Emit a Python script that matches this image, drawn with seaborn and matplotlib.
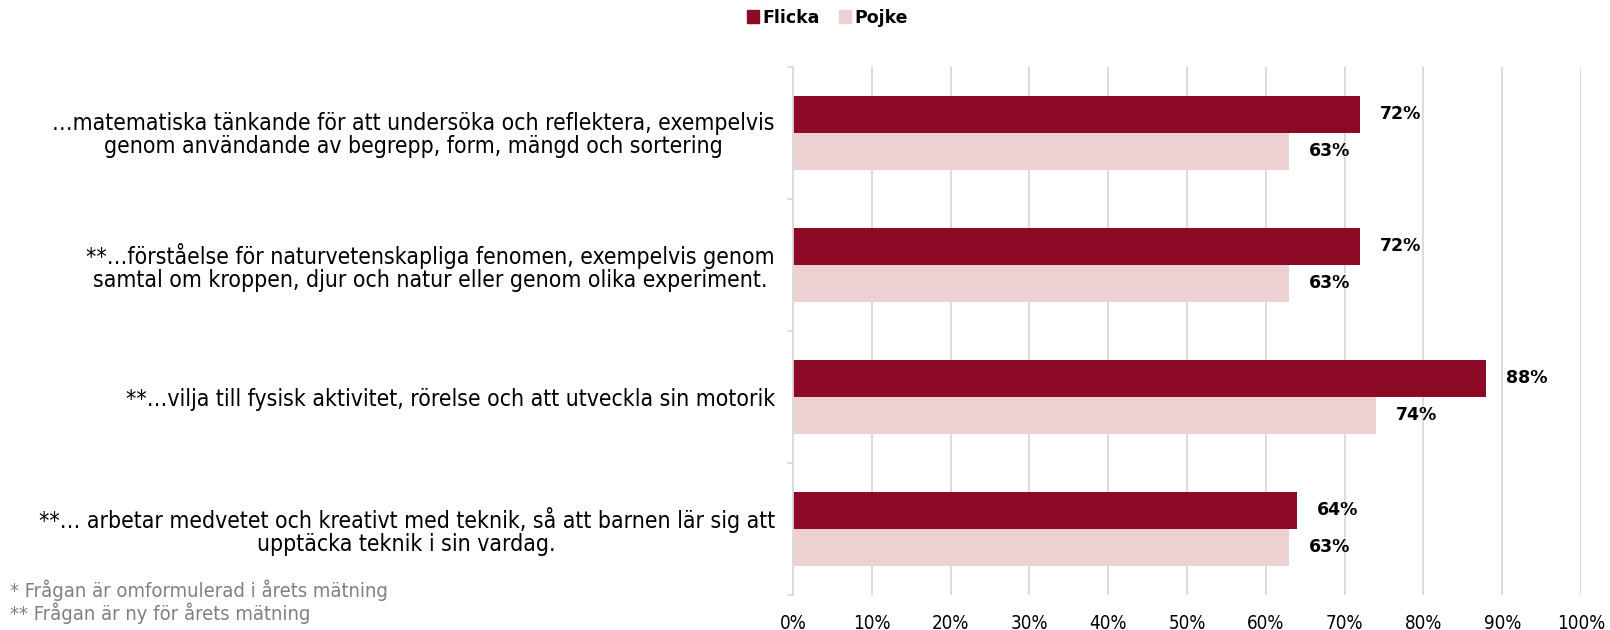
import pandas as pd
import matplotlib
matplotlib.use("Agg")
import matplotlib.pyplot as plt
import seaborn as sns

# Data
categories = [
    "…matematiska tänkande för att undersöka och reflektera, exempelvis\ngenom användande av begrepp, form, mängd och sortering",
    "**…förståelse för naturvetenskapliga fenomen, exempelvis genom\nsamtal om kroppen, djur och natur eller genom olika experiment.",
    "**…vilja till fysisk aktivitet, rörelse och att utveckla sin motorik",
    "**… arbetar medvetet och kreativt med teknik, så att barnen lär sig att\nupptäcka teknik i sin vardag.",
]
flicka = [72, 72, 88, 64]
pojke = [63, 63, 74, 63]
groups = ["Flicka", "Pojke"]
colors = ["#8C0A26", "#EDD1D2"]
footnotes = "* Frågan är omformulerad i årets mätning\n** Frågan är ny för årets mätning"

df = pd.DataFrame({
    "Kategori": categories * 2,
    "Grupp": ["Flicka"] * len(categories) + ["Pojke"] * len(categories),
    "Andel": flicka + pojke,
})

sns.set_style("white")
plt.rcParams["font.family"] = ["DejaVu Sans"]
plt.rcParams["text.color"] = "black"
plt.rcParams["xtick.color"] = "black"
plt.rcParams["ytick.color"] = "black"

fig = plt.figure(figsize=(16.1, 6.3), dpi=100)
ax = fig.add_axes([0.4925, 0.056, 0.982 - 0.4925, 0.894 - 0.056])

sns.barplot(data=df, y="Kategori", x="Andel", hue="Grupp", hue_order=groups,
            palette=colors, orient="h", width=0.56, ax=ax, legend=False,
            saturation=1, linewidth=0)

ax.set_xlim(0, 100)
ax.set_ylim(len(categories) - 0.5, -0.5)
ax.set_xticks(range(0, 101, 10))
ax.set_xticklabels([f"{v}%" for v in range(0, 101, 10)], fontsize=13.5,
                   fontstretch="condensed")
ax.xaxis.grid(True, color="#D9D9D9", linewidth=1.3)
ax.set_axisbelow(True)
ax.set_xlabel("")
ax.set_ylabel("")

for s in ["top", "right", "bottom"]:
    ax.spines[s].set_visible(False)
ax.spines["left"].set_color("#D9D9D9")
ax.spines["left"].set_linewidth(1.3)

# y tick labels
ax.set_yticks(range(len(categories)))
ax.set_yticklabels(categories, fontsize=16.5, fontstretch="condensed",
                   multialignment="center", linespacing=1.0)
ax.tick_params(axis="y", length=0, pad=13)
ax.tick_params(axis="x", length=0, pad=14)

# small tick marks at band boundaries
for b in [x - 0.5 for x in range(len(categories) + 1)]:
    ax.plot([-0.6, 0], [b, b], color="#D9D9D9", lw=1.3, clip_on=False)

for cont in ax.containers:
    ax.bar_label(cont, fmt="%d%%", padding=14, fontsize=12.5,
                 color="black", fontweight="semibold")

# legend
handles = [plt.Rectangle((0, 0), 1, 1, color=c) for c in colors]
fig.legend(handles, groups, loc="center", bbox_to_anchor=(0.514, 0.972),
           ncol=2, frameon=False, handlelength=0.7,
           handleheight=0.7, handletextpad=0.2, columnspacing=1.1,
           prop={"size": 12.5, "weight": "semibold"})

fig.text(0.006, 0.045, footnotes, fontsize=14.5, fontstretch="condensed",
         color="#808080", va="center", linespacing=1.05)

fig.savefig("out.png", dpi=100)
